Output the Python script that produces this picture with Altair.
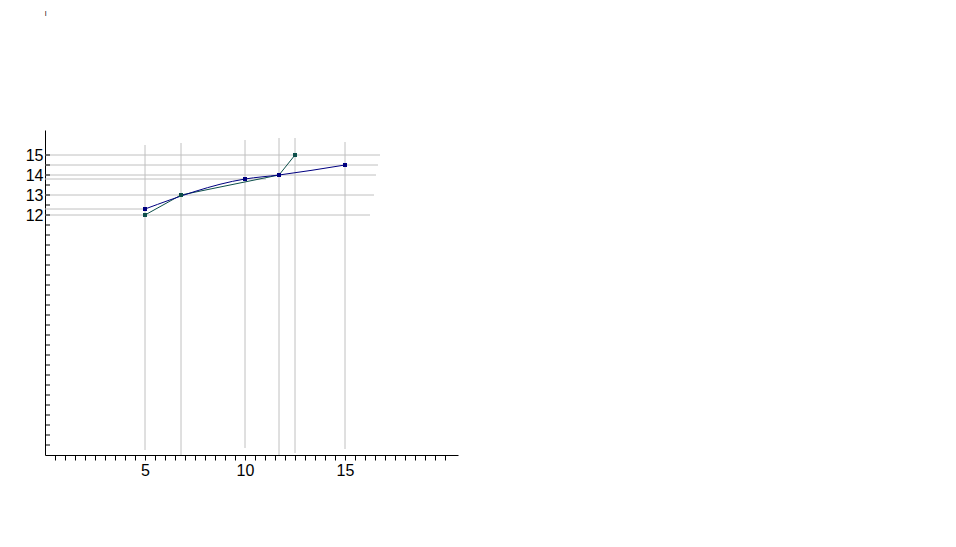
import altair as alt
import pandas as pd

# Series data
green_x = [5, 6.8, 11.7, 12.5]
green_y = [12, 13, 14, 15]
navy_x = [5, 10, 11.7, 15]
navy_y = [12.3, 13.8, 14.0, 14.5]

# Drop/grid lines
v_x = [5, 6.8, 10, 11.7, 12.5, 15]
v_top = [15.5, 15.6, 15.75, 15.85, 15.85, 15.65]
v_bot = [0.25, 0.0, 0.35, 0.0, 0.1, 0.3]
h_y = [12, 12.3, 13, 13.8, 14, 14.5, 15]
h_end = [16.25, 5, 16.45, 11.05, 16.55, 16.65, 16.75]

x_ticks = [i * 0.5 for i in range(1, 41)]
y_ticks = [i * 0.5 for i in range(1, 31)]
x_labels = [5, 10, 15]
y_labels = [12, 13, 14, 15]

XD = [0, 20.65]
YD = [0, 16.25]

green = pd.DataFrame({"x": green_x, "y": green_y})
navy = pd.DataFrame({"x": navy_x, "y": navy_y})
vdf = pd.DataFrame({"x": v_x, "y": v_bot, "y2": v_top})
hdf = pd.DataFrame({"y": h_y, "x": [0] * len(h_y), "x2": h_end})
ytdf = pd.DataFrame({"y": y_ticks})

xs = alt.Scale(domain=XD, nice=False, zero=False)
ys = alt.Scale(domain=YD, nice=False, zero=False)

font = "Liberation Sans"

lab_set = "[" + ",".join(str(v) for v in x_labels) + "]"
xaxis = alt.Axis(values=x_ticks,
                 labelExpr=f"indexof({lab_set}, datum.value) >= 0 ? format(datum.value, 'd') : ''",
                 tickSize=5, tickColor="black", domainColor="black", grid=False,
                 labelFont=font, labelFontSize=16, labelColor="black", title=None,
                 labelPadding=2, tickWidth=1, domainWidth=1, orient="bottom",
                 labelFlush=False, labelOverlap=False)
yaxis = alt.Axis(values=y_labels, ticks=False, domainColor="black", grid=False,
                 labelFont=font, labelFontSize=16, labelColor="black", title=None,
                 labelPadding=2, domainWidth=1, orient="left", format="d")


def X(f="x"):
    return alt.X(f + ":Q", scale=xs, axis=xaxis)


def Y(f="y"):
    return alt.Y(f + ":Q", scale=ys, axis=yaxis)


vrules = alt.Chart(vdf).mark_rule(color="#c0c0c0", strokeWidth=1).encode(
    x=X(), y=Y(), y2="y2:Q")
hrules = alt.Chart(hdf).mark_rule(color="#c0c0c0", strokeWidth=1).encode(
    y=Y(), x=X(), x2="x2:Q")
yt = alt.Chart(ytdf).mark_rule(color="black", strokeWidth=1).encode(
    y=Y(), x=alt.value(0), x2=alt.value(5))

gline = alt.Chart(green).mark_line(color="#0d4f4a", strokeWidth=1).encode(x=X(), y=Y())
gpts = alt.Chart(green).mark_square(color="#0d4f4a", size=16, opacity=1).encode(x=X(), y=Y())
nline = alt.Chart(navy).mark_line(color="#000080", strokeWidth=1,
                                  interpolate="monotone").encode(x=X(), y=Y())
npts = alt.Chart(navy).mark_square(color="#000080", size=16, opacity=1).encode(x=X(), y=Y())

chart = alt.layer(vrules, hrules, yt, gline, nline, gpts, npts).properties(
    width=413, height=325,
    background="white",
    autosize=alt.AutoSizeParams(type="none"),
    padding={"left": 37, "top": 122, "right": 20, "bottom": 40},
    title=alt.TitleParams("|", fontSize=5, anchor="start", offset=114, color="black",
                          font=font, frame="group"),
).configure_view(stroke=None, strokeWidth=0)

chart.save("out.html", embed_options={"renderer": "svg", "actions": False})
